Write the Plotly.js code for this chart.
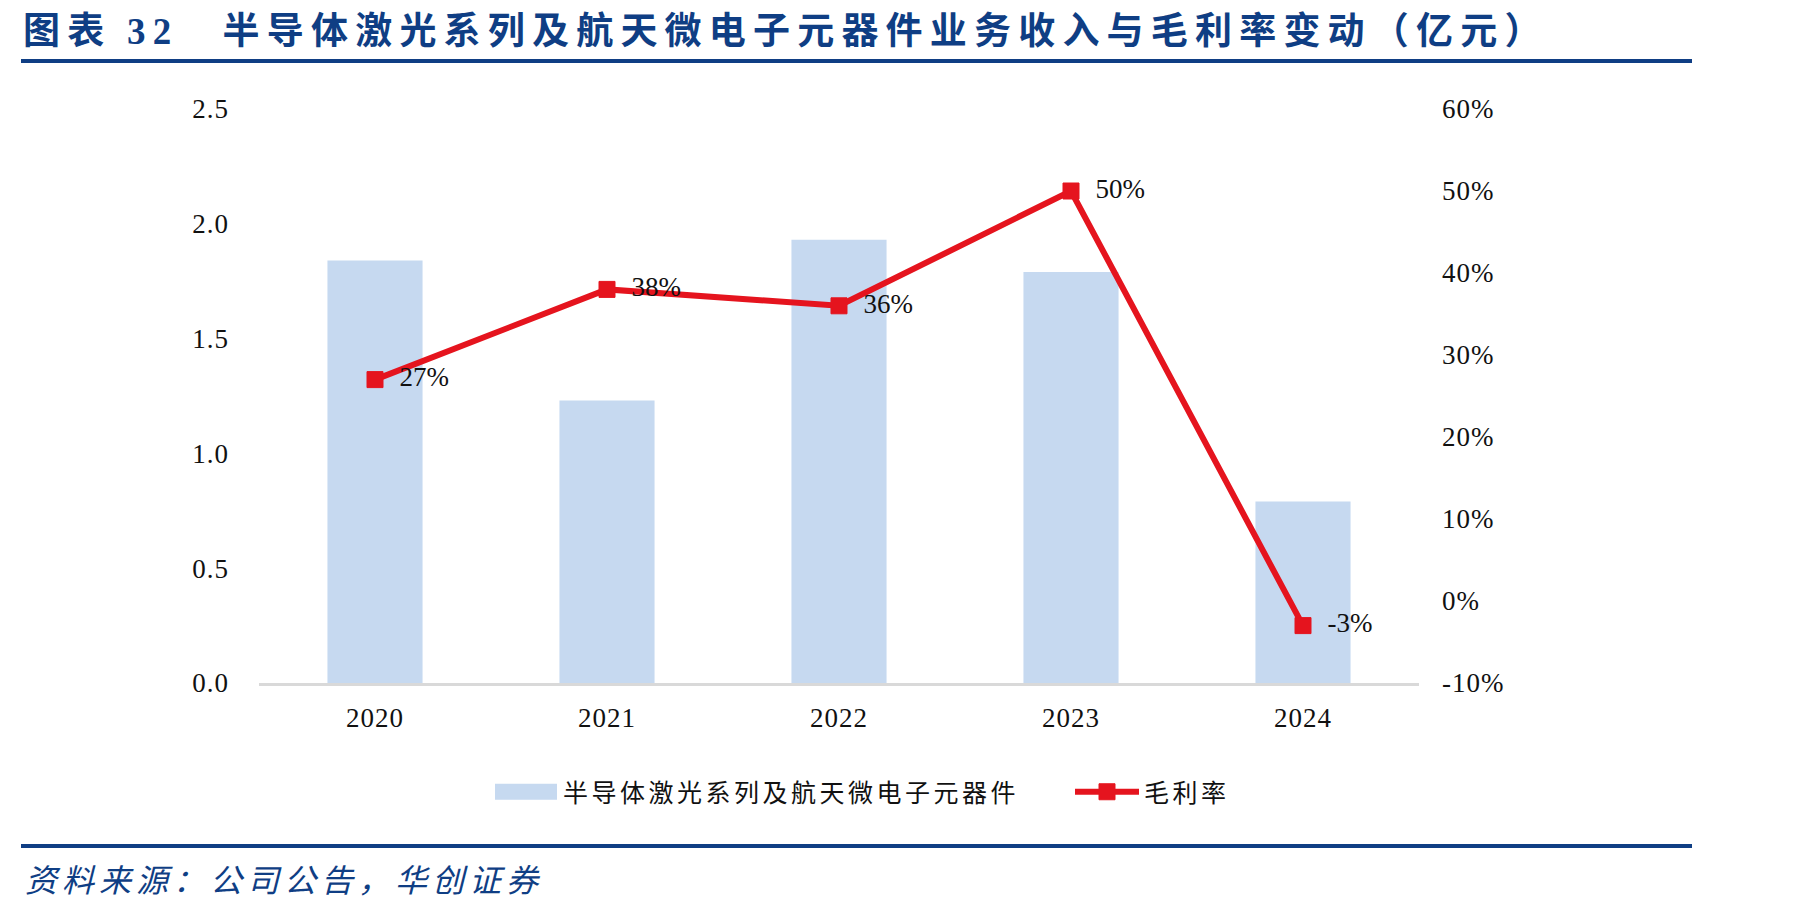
<!DOCTYPE html>
<html>
<head>
<meta charset="utf-8">
<script src="https://cdn.plot.ly/plotly-3.0.1.min.js"></script>
<style>
  html, body { margin: 0; padding: 0; background: #ffffff; }
  #chart { width: 1801px; height: 913px; }
  .gtitle { letter-spacing: 7.2px; }
  .legendtext { letter-spacing: 3.5px; }
  .annotation-text { letter-spacing: 5px; }
  .xtick text, .ytick text, .y2tick text { letter-spacing: 1px; }
</style>
</head>
<body>
<div id="chart"></div>
<script>
// 年份
const years = ['2020', '2021', '2022', '2023', '2024'];
// 半导体激光系列及航天微电子元器件业务收入（亿元）
const revenue = [1.84, 1.23, 1.93, 1.79, 0.79];
// 毛利率
const grossMargin = [0.27, 0.38, 0.36, 0.50, -0.03];
// 坐标轴刻度
const leftTickVals = [0, 0.5, 1.0, 1.5, 2.0, 2.5];
const leftTickText = ['0.0', '0.5', '1.0', '1.5', '2.0', '2.5'];
const rightTickVals = [-0.1, 0, 0.1, 0.2, 0.3, 0.4, 0.5, 0.6];
const rightTickText = ['-10%', '0%', '10%', '20%', '30%', '40%', '50%', '60%'];

const seriesBarName = '半导体激光系列及航天微电子元器件';
const seriesLineName = '毛利率';
const titleText = '图表 <span style="font-family:\'Liberation Serif\', serif">32</span>\u3000半导体激光系列及航天微电子元器件业务收入与毛利率变动（亿元）';
const sourceText = '资料来源：公司公告，华创证券';

const marginLabels = grossMargin.map(v => Math.round(v * 100) + '%');

// 绘图区像素位置
const W = 1801, H = 913;
const plotL = 259, plotR = 1419, plotT = 109, plotB = 683;
const px2x = p => (p - plotL) / (plotR - plotL);
const px2y = p => (plotB - p) / (plotB - plotT);

const navy = '#0F3E84';
const serif = '"Liberation Serif", "Times New Roman", serif';
const cjk = '"Noto Sans CJK SC", "Noto Sans", sans-serif';

const traces = [
  {
    type: 'bar',
    name: seriesBarName,
    x: years,
    y: revenue,
    yaxis: 'y',
    marker: { color: '#C6D9F0' },
    hoverinfo: 'x+y'
  },
  {
    type: 'scatter',
    mode: 'lines+markers+text',
    name: seriesLineName,
    x: years,
    y: grossMargin,
    yaxis: 'y2',
    line: { color: '#E5141E', width: 6 },
    marker: { symbol: 'square', size: 16, color: '#E5141E', line: { color: '#E5141E', width: 1 } },
    text: marginLabels,
    texttemplate: '\u2002%{text}',
    textposition: 'middle right',
    textfont: { family: serif, size: 27, color: '#111111' },
    cliponaxis: false
  }
];

const layout = {
  width: W,
  height: H,
  paper_bgcolor: '#ffffff',
  plot_bgcolor: '#ffffff',
  margin: { l: plotL, r: W - plotR, t: plotT, b: H - plotB, pad: 0 },
  showlegend: true,
  bargap: 0.59,
  title: {
    text: titleText,
    font: { family: cjk, size: 37, color: navy, weight: 'bold' },
    x: 23 / W, xref: 'container', xanchor: 'left',
    y: 1 - 31 / H, yref: 'container', yanchor: 'middle'
  },
  xaxis: {
    type: 'category',
    showgrid: false,
    zeroline: false,
    showline: true,
    linecolor: '#D9D9D9',
    linewidth: 2.5,
    ticks: '',
    ticklabelstandoff: 9,
    tickfont: { family: serif, size: 27, color: '#111111' },
    fixedrange: true
  },
  yaxis: {
    range: [0, 2.5],
    tickvals: leftTickVals,
    ticktext: leftTickText,
    showgrid: false,
    zeroline: false,
    showline: false,
    ticks: '',
    ticklabelstandoff: 29,
    tickfont: { family: serif, size: 27, color: '#111111' },
    fixedrange: true
  },
  yaxis2: {
    range: [-0.1, 0.6],
    overlaying: 'y',
    side: 'right',
    tickvals: rightTickVals,
    ticktext: rightTickText,
    showgrid: false,
    zeroline: false,
    showline: false,
    ticks: '',
    ticklabelstandoff: 22,
    tickfont: { family: serif, size: 27, color: '#111111' },
    fixedrange: true
  },
  legend: {
    orientation: 'h',
    xref: 'container', yref: 'container',
    x: 489 / W, xanchor: 'left',
    y: 1 - 792 / H, yanchor: 'middle',
    font: { family: cjk, size: 25, color: '#111111' },
    itemwidth: 64,
    entrywidth: 502,
    entrywidthmode: 'pixels',
    bgcolor: 'rgba(0,0,0,0)'
  },
  shapes: [
    { type: 'line', xref: 'paper', yref: 'paper',
      x0: px2x(21), x1: px2x(1692), y0: px2y(61), y1: px2y(61),
      line: { color: navy, width: 4 } },
    { type: 'line', xref: 'paper', yref: 'paper',
      x0: px2x(21), x1: px2x(1692), y0: px2y(846), y1: px2y(846),
      line: { color: navy, width: 4 } }
  ],
  annotations: [
    { xref: 'paper', yref: 'paper', x: px2x(23), y: px2y(878),
      xanchor: 'left', yanchor: 'middle', showarrow: false,
      text: sourceText,
      font: { family: cjk, size: 32, color: navy, style: 'italic' } }
  ]
};

// 图例中柱形色块画成宽矩形
function widenBarSwatch() {
  const items = document.querySelectorAll('#chart .legend .traces');
  if (!items.length) return;
  items[0].querySelectorAll('.legendpoints path').forEach(p => {
    p.setAttribute('d', 'M31,8H-31V-8H31Z');
  });
}

Plotly.newPlot('chart', traces, layout, { displayModeBar: false, staticPlot: true })
  .then(widenBarSwatch);
</script>
</body>
</html>
